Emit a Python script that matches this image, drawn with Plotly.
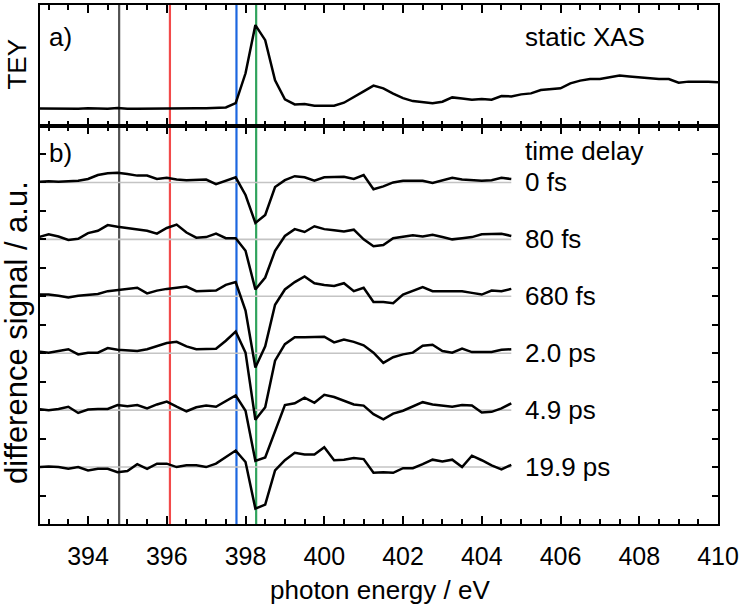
import plotly.graph_objects as go

# photon energy grids (eV)
E_diff = [392.75, 393.0, 393.25, 393.5, 393.75, 394.0, 394.25, 394.5, 394.75, 395.0,
          395.25, 395.5, 395.75, 396.0, 396.25, 396.5, 396.75, 397.0, 397.25, 397.5,
          397.75, 398.0, 398.25, 398.5, 398.75, 399.0, 399.25, 399.5, 399.75, 400.0,
          400.25, 400.5, 400.75, 401.0, 401.25, 401.5, 401.75, 402.0, 402.25, 402.5,
          402.75, 403.0, 403.25, 403.5, 403.75, 404.0, 404.25, 404.5, 404.75]
E_xas = E_diff + [405.0, 405.25, 405.5, 405.75, 406.0, 406.25, 406.5, 406.75, 407.0,
                  407.25, 407.5, 407.75, 408.0, 408.25, 408.5, 408.75, 409.0, 409.25,
                  409.5, 409.75, 410.0]

# static XAS (TEY, arb. units)
tey = [0.17, 0.168, 0.172, 0.17, 0.168, 0.172, 0.169, 0.168, 0.175, 0.166, 0.167, 0.169,
       0.17, 0.169, 0.17, 0.171, 0.172, 0.173, 0.175, 0.18, 0.223, 0.52, 1.0, 0.85, 0.45,
       0.26, 0.21, 0.213, 0.197, 0.197, 0.197, 0.227, 0.287, 0.34, 0.397, 0.37, 0.317,
       0.273, 0.243, 0.23, 0.223, 0.237, 0.28, 0.27, 0.257, 0.263, 0.257, 0.293, 0.29,
       0.31, 0.32, 0.353, 0.363, 0.37, 0.42, 0.447, 0.463, 0.463, 0.48, 0.497, 0.487,
       0.477, 0.47, 0.463, 0.463, 0.427, 0.437, 0.44, 0.437, 0.43]

# difference signals (a.u.), one per time delay
delays = ["0 fs", "80 fs", "680 fs", "2.0 ps", "4.9 ps", "19.9 ps"]
offsets = [5, 4, 3, 2, 1, 0]
d_0fs = [0.01, 0.02, 0.01, 0.02, 0.03, 0.06, 0.13, 0.16, 0.17, 0.15, 0.12, 0.12, 0.06, 0.08,
         0.05, 0.04, 0.05, 0.05, -0.03, 0.03, 0.09,
         -0.22, -0.71, -0.57, -0.08, 0.04, 0.11, 0.09, 0.03, 0.09, 0.09, 0.10, 0.06, 0.13,
         -0.12, -0.07, 0.0, 0.03, 0.03, 0.03, -0.01, 0.04, 0.08, 0.05, 0.04, 0.03, 0.04, 0.08, 0.06]
d_80fs = [0.04, 0.09, 0.05, -0.01, 0.01, 0.11, 0.15, 0.25, 0.22, 0.2, 0.18, 0.15, 0.1, 0.2,
          0.26, 0.12, 0.03, 0.04, 0.1, 0.02, 0.02,
          -0.2, -0.88, -0.67, -0.2, 0.06, 0.18, 0.13, 0.23, 0.18, 0.16, 0.14, 0.17, 0.0,
          -0.12, -0.1, 0.02, 0.04, 0.07, 0.05, 0.08, 0.04, 0.0, 0.02, 0.04, 0.09, 0.1, 0.1, 0.06]
d_680fs = [0.03, 0.03, 0.01, -0.02, 0.01, 0.02, 0.04, 0.09, 0.11, 0.12, 0.15, 0.05, 0.1, 0.13,
           0.15, 0.17, 0.09, 0.09, 0.1, 0.2, 0.25,
           -0.25, -1.25, -0.88, -0.15, 0.12, 0.25, 0.35, 0.23, 0.2, 0.18, 0.23, 0.09, 0.15,
           -0.1, -0.1, -0.12, 0.03, 0.09, 0.16, 0.09, 0.09, 0.09, 0.09, 0.06, 0.03, 0.1, 0.09, 0.13]
d_2ps = [0.03, 0.01, 0.04, 0.07, -0.02, 0.01, 0.01, 0.09, 0.06, 0.05, 0.04, 0.07, 0.12, 0.18,
         0.2, 0.12, 0.07, 0.08, 0.08, 0.22, 0.38,
         0.01, -1.17, -0.95, -0.13, 0.16, 0.28, 0.28, 0.28, 0.29, 0.19, 0.24, 0.2, 0.14,
         0.01, -0.17, -0.07, -0.02, 0.01, 0.13, 0.15, 0.04, 0.01, 0.08, 0.02, 0.02, 0.02, 0.06, 0.07]
d_4p9ps = [0.02, 0.0, 0.02, 0.06, -0.05, 0.01, 0.02, 0.02, 0.09, 0.07, 0.09, 0.03, 0.1, 0.15,
           0.06, -0.02, 0.05, 0.08, 0.06, 0.16, 0.26,
           -0.01, -0.89, -0.83, -0.36, 0.09, 0.12, 0.22, 0.13, 0.27, 0.23, 0.16, 0.1, 0.08,
           -0.07, -0.16, -0.06, -0.01, 0.06, 0.14, 0.1, 0.08, 0.06, 0.09, 0.08, -0.04, -0.03, 0.03, 0.12]
d_19p9ps = [0.0, 0.01, 0.0, -0.03, 0.0, -0.06, -0.03, -0.03, -0.09, -0.07, 0.05, -0.03, 0.06, 0.06,
            0.0, 0.03, 0.03, 0.0, 0.06, 0.18, 0.29,
            0.09, -0.73, -0.66, -0.06, 0.12, 0.25, 0.22, 0.22, 0.35, 0.12, 0.13, 0.16, 0.14,
            -0.1, -0.09, -0.1, -0.02, -0.02, 0.05, 0.13, 0.1, 0.13, 0.0, 0.2, 0.12, 0.03, -0.04, 0.04]
signals = [d_0fs, d_80fs, d_680fs, d_2ps, d_4p9ps, d_19p9ps]

# marker energies (vertical lines)
marker_E = [394.79, 396.08, 397.77, 398.27]
marker_colors = ["#505050", "#f24a4a", "#1b66e0", "#2fa35c"]

tick_vals = [394, 396, 398, 400, 402, 404, 406, 408, 410]

FONT = "Liberation Sans, Arial, sans-serif"
FS = 26

fig = go.Figure()

# static XAS
fig.add_trace(go.Scatter(x=E_xas, y=tey, xaxis="x2", yaxis="y2", mode="lines",
                         line=dict(color="black", width=2.5), showlegend=False,
                         hoverinfo="skip"))

# baselines and difference traces
for off in offsets:
    fig.add_trace(go.Scatter(x=[E_diff[0], E_diff[-1]], y=[off, off], mode="lines",
                             line=dict(color="#c4c4c4", width=1.6), showlegend=False,
                             hoverinfo="skip"))
for sig, off in zip(signals, offsets):
    fig.add_trace(go.Scatter(x=E_diff, y=[v + off for v in sig], mode="lines",
                             line=dict(color="black", width=2.5), showlegend=False))

shapes = []
for e, c in zip(marker_E, marker_colors):
    shapes.append(dict(type="line", xref="x", yref="paper", x0=e, x1=e, y0=0, y1=1,
                       line=dict(color=c, width=2.2), layer="below"))

annotations = []
for name, off in zip(delays, offsets):
    annotations.append(dict(x=405.05, y=off, xref="x", yref="y", text=name, showarrow=False,
                            xanchor="left", yanchor="middle", font=dict(size=FS)))
annotations += [
    dict(x=405.05, y=5.56, xref="x", yref="y", text="time delay", showarrow=False,
         xanchor="left", yanchor="middle", font=dict(size=FS)),
    dict(x=392.95, y=5.52, xref="x", yref="y", text="b)", showarrow=False,
         xanchor="left", yanchor="middle", font=dict(size=FS)),
    dict(x=392.95, y=0.88, xref="x2", yref="y2", text="a)", showarrow=False,
         xanchor="left", yanchor="middle", font=dict(size=FS)),
    dict(x=405.05, y=0.88, xref="x2", yref="y2", text="static XAS", showarrow=False,
         xanchor="left", yanchor="middle", font=dict(size=FS)),
    dict(x=-0.034, y=0.887, xref="paper", yref="paper", text="TEY", showarrow=False,
         textangle=-90, xanchor="center", yanchor="middle", font=dict(size=FS)),
    dict(x=-0.034, y=0.37, xref="paper", yref="paper", text="difference signal / a.u.",
         showarrow=False, textangle=-90, xanchor="center", yanchor="middle",
         font=dict(size=31)),
    dict(x=0.5015, y=-0.127, xref="paper", yref="paper", text="photon energy / eV",
         showarrow=False, xanchor="center", yanchor="middle", font=dict(size=FS)),
]

xcommon = dict(range=[392.78, 410], showgrid=False, zeroline=False, showline=True,
               linecolor="black", linewidth=2, mirror="ticks", ticks="inside",
               ticklen=8, tickwidth=1.5, tickcolor="black", tickvals=tick_vals,
               minor=dict(dtick=0.5, ticks="inside", ticklen=5, tickwidth=1.5,
                          tickcolor="black", showgrid=False))

fig.update_layout(
    width=743, height=608,
    margin=dict(l=40, r=25, t=3, b=84),
    paper_bgcolor="white", plot_bgcolor="white",
    font=dict(family=FONT, size=FS, color="black"),
    xaxis=dict(domain=[0, 1], anchor="y", ticklabelstandoff=9,
               tickfont=dict(size=25), **xcommon),
    xaxis2=dict(domain=[0, 1], anchor="y2", matches="x", showticklabels=False, **xcommon),
    yaxis=dict(domain=[0, 0.7678], range=[-1, 6], showgrid=False, zeroline=False,
               showline=True, linecolor="black", linewidth=2, mirror="ticks",
               ticks="inside", ticklen=6, tickwidth=1.5, tickcolor="black",
               tickvals=[-0.5, 0, 0.5, 1, 1.5, 2, 2.5, 3, 3.5, 4, 4.5, 5, 5.5],
               showticklabels=False),
    yaxis2=dict(domain=[0.7678, 1], range=[0, 1.2], showgrid=False, zeroline=False,
                showline=True, linecolor="black", linewidth=2, mirror=True,
                ticks="", showticklabels=False),
    shapes=shapes,
    annotations=annotations,
)

fig.write_html("out.html")
